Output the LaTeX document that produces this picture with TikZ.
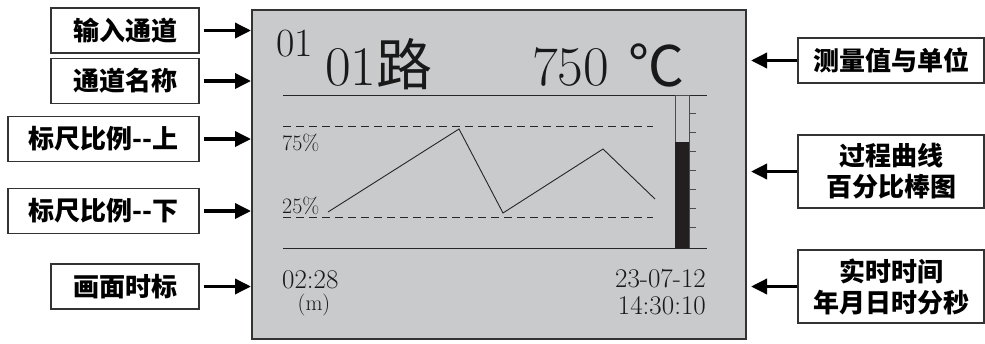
\documentclass[tikz,border=0pt]{standalone}
\usepackage{fontspec}
\newfontfamily\cjk{Noto Sans CJK SC}
\usepackage{tikz}
\usetikzlibrary{arrows.meta,calc}
\definecolor{lcdgray}{HTML}{C9CACC}
\definecolor{inkblack}{HTML}{231F20}
\definecolor{frame}{HTML}{333333}
\tikzset{
    tagbox/.style={draw=frame, line width=1.2pt, fill=white, inner sep=0pt,
        minimum height=45pt, align=center,
        font=\cjk\bfseries\fontsize{26}{31}\selectfont},
    pointer/.style={line width=3.5pt, draw=black,
        -{Triangle[length=16pt,width=15pt]}},
    lcdline/.style={line width=1pt, draw=black!85},
    lcdtext/.style={inner sep=0pt, text=black!90}
}

\begin{document}
\begin{tikzpicture}[x=1pt,y=-1pt]
    \useasboundingbox (0,0) rectangle (985,343);

    % LCD screen
    \node[draw=frame, line width=2pt, fill=lcdgray, minimum width=494pt,
        minimum height=329pt, inner sep=0pt] (screen) at (499,174.5) {};

    % Header: channel number, name and value
    \node[lcdtext, anchor=base west, font=\fontsize{40}{40}\selectfont] (chno) at (276,56) {01};
    \node[lcdtext, anchor=base west, font=\fontsize{56}{56}\selectfont] (chname) at (325,85) {01{\cjk 路}};
    \node[lcdtext, anchor=base west, font=\fontsize{56}{56}\selectfont] (meas) at (532,85) {750};
    \node[lcdtext, anchor=base west, font=\cjk\fontsize{56}{56}\selectfont] (unit) at (628,86) {℃};
    \draw[lcdline] (283,95) -- (707,95);

    % Scale limits
    \draw[lcdline, dash pattern=on 8pt off 5pt] (283,126) -- (653,126);
    \draw[lcdline, dash pattern=on 8pt off 5pt] (283,217) -- (653,217);
    \node[lcdtext, anchor=base west, font=\fontsize{22}{22}\selectfont] (upper) at (282,150) {75\%};
    \node[lcdtext, anchor=base west, font=\fontsize{22}{22}\selectfont] (lower) at (282,213) {25\%};

    % Process curve
    \draw[lcdline, line width=0.9pt] (328,212) -- (459,129) -- (503,213) -- (603,149) -- (655,199);

    % Percent bar
    \draw[line width=1pt, draw=black!70, fill=lcdgray] (675,95) rectangle (689,248);
    \fill[inkblack] (675,142) rectangle (689,248);
    \foreach \y in {0,...,6} {
        \draw[line width=1pt, draw=black!70] (689,113+19*\y) -- (696,113+19*\y);
    }
    \draw[lcdline] (283,248) -- (707,248);

    % Footer: time base and clock
    \node[lcdtext, anchor=base west, font=\fontsize{27}{27}\selectfont] (tbase) at (282,288) {02:28};
    \node[lcdtext, anchor=base, font=\fontsize{22}{22}\selectfont] (tunit) at (314,310) {(m)};
    \node[lcdtext, anchor=base east, align=right, font=\fontsize{27}{27}\selectfont] (clock) at (706,314) {23-07-12\\14:30:10};

    % Left captions
    \node[tagbox, minimum width=148pt] (input) at (125,30.5) {输入通道};
    \node[tagbox, minimum width=148pt] (name) at (125,81) {通道名称};
    \node[tagbox, minimum width=191pt] (top) at (103.5,139) {标尺比例{-}{-}上};
    \node[tagbox, minimum width=191pt] (bottom) at (103.5,211) {标尺比例{-}{-}下};
    \node[tagbox, minimum width=148pt] (timebase) at (125,286.5) {画面时标};
    \foreach \n in {input,name,top,bottom,timebase} {
        \draw[pointer] ([xshift=4pt]\n.east) -- (\n.east -| screen.west);
    }

    % Right captions
    \node[tagbox, minimum width=186pt] (value) at (891,60.5) {测量值与单位};
    \node[tagbox, minimum width=186pt, minimum height=73pt] (curve) at (891,171.5) {过程曲线\\百分比棒图};
    \node[tagbox, minimum width=186pt, minimum height=73pt] (rtc) at (891,286.5) {实时时间\\年月日时分秒};
    \foreach \n in {value,curve,rtc} {
        \draw[pointer] (\n.west) -- ([xshift=4pt]\n.west -| screen.east);
    }
\end{tikzpicture}
\end{document}
